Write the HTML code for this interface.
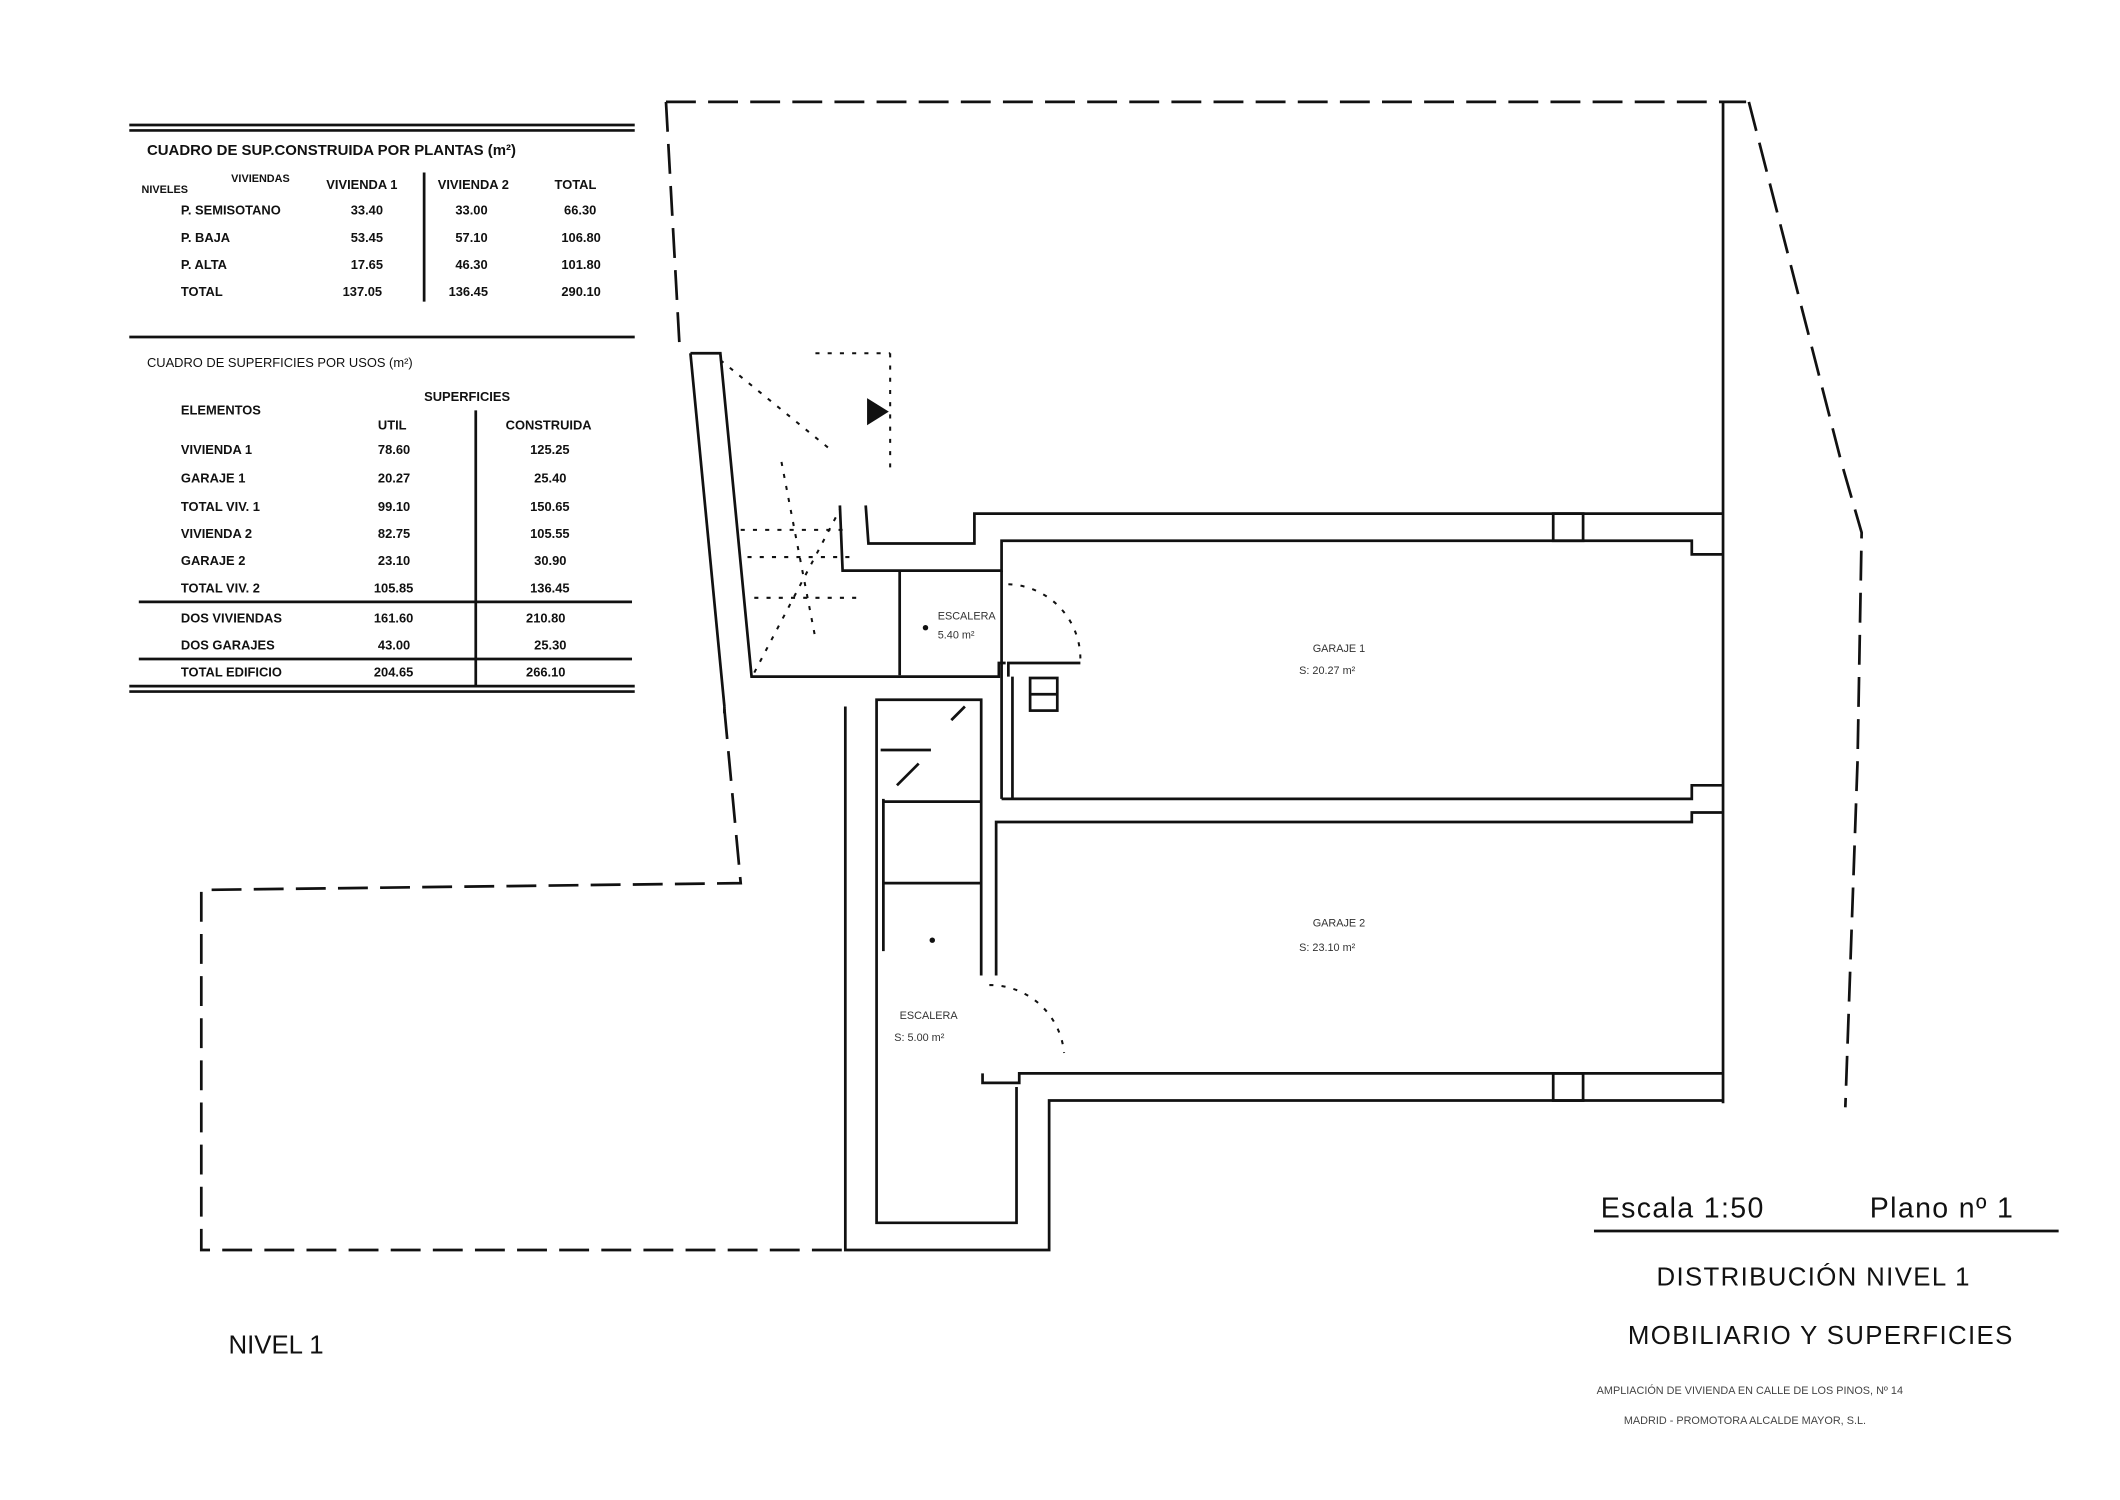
<!DOCTYPE html>
<html><head><meta charset="utf-8"><style>
html,body{margin:0;padding:0;background:#fff;}
svg{display:block;}
text{font-family:"Liberation Sans",sans-serif;fill:#111;}
.t{font-size:9.5px;font-weight:bold;}
</style></head><body>
<svg width="2120" height="1500" viewBox="0 0 1560 1104" xmlns="http://www.w3.org/2000/svg">
<rect width="1560" height="1104" fill="#fff"/>
<g stroke="#111" stroke-width="2" fill="none">
<!-- table lines -->
<line x1="95" y1="92" x2="467" y2="92"/><line x1="95" y1="96" x2="467" y2="96"/>
<line x1="312" y1="127" x2="312" y2="222"/>
<line x1="95" y1="248" x2="467" y2="248"/>
<line x1="350" y1="302" x2="350" y2="505"/>
<line x1="102" y1="443" x2="465" y2="443"/>
<line x1="102" y1="485" x2="465" y2="485"/>
<line x1="95" y1="505" x2="467" y2="505"/><line x1="95" y1="509" x2="467" y2="509"/>
</g>
<g class="t">
<text x="108" y="114" style="font-size:11px">CUADRO DE SUP.CONSTRUIDA POR PLANTAS (m²)</text>
<text x="104" y="142" style="font-size:8px">NIVELES</text><text x="170" y="134" style="font-size:8px">VIVIENDAS</text>
<text x="240" y="139">VIVIENDA 1</text><text x="322" y="139">VIVIENDA 2</text><text x="408" y="139">TOTAL</text>
<text x="133" y="158">P. SEMISOTANO</text><text x="258" y="158">33.40</text><text x="335" y="158">33.00</text><text x="415" y="158">66.30</text>
<text x="133" y="178">P. BAJA</text><text x="258" y="178">53.45</text><text x="335" y="178">57.10</text><text x="413" y="178">106.80</text>
<text x="133" y="198">P. ALTA</text><text x="258" y="198">17.65</text><text x="335" y="198">46.30</text><text x="413" y="198">101.80</text>
<text x="133" y="218">TOTAL</text><text x="252" y="218">137.05</text><text x="330" y="218">136.45</text><text x="413" y="218">290.10</text>
<text x="108" y="270" style="font-weight:normal">CUADRO DE SUPERFICIES POR USOS (m²)</text>
<text x="312" y="295">SUPERFICIES</text>
<text x="133" y="305">ELEMENTOS</text>
<text x="278" y="316">UTIL</text><text x="372" y="316">CONSTRUIDA</text>
<text x="133" y="334">VIVIENDA 1</text><text x="278" y="334">78.60</text><text x="390" y="334">125.25</text>
<text x="133" y="355">GARAJE 1</text><text x="278" y="355">20.27</text><text x="393" y="355">25.40</text>
<text x="133" y="376">TOTAL VIV. 1</text><text x="278" y="376">99.10</text><text x="390" y="376">150.65</text>
<text x="133" y="396">VIVIENDA 2</text><text x="278" y="396">82.75</text><text x="390" y="396">105.55</text>
<text x="133" y="416">GARAJE 2</text><text x="278" y="416">23.10</text><text x="393" y="416">30.90</text>
<text x="133" y="436">TOTAL VIV. 2</text><text x="275" y="436">105.85</text><text x="390" y="436">136.45</text>
<text x="133" y="458">DOS VIVIENDAS</text><text x="275" y="458">161.60</text><text x="387" y="458">210.80</text>
<text x="133" y="478">DOS GARAJES</text><text x="278" y="478">43.00</text><text x="393" y="478">25.30</text>
<text x="133" y="498">TOTAL EDIFICIO</text><text x="275" y="498">204.65</text><text x="387" y="498">266.10</text>
</g>

<!-- dashed outlines -->
<g stroke="#111" stroke-width="2" fill="none" stroke-dasharray="22 9">
<polyline points="490,75 1285,75"/>
<polyline points="490,75 500,255"/>
<polyline points="533,522 545,650 148,655 148,920 622,920"/>
<polyline points="1287,75 1355,340 1370,392 1367,560 1358,815"/>
</g>
<line x1="1268" y1="75" x2="1268" y2="812" stroke="#111" stroke-width="2"/>

<!-- solid walls -->
<g stroke="#111" stroke-width="2" fill="none">
<polyline points="508,260 530,260 553,498 735,498 735,488 740,488"/>
<polyline points="508,260 533,520"/>
<polyline points="533,520 533,525"/>
<polyline points="618,372 620,420 737,420 737,398 1245,398 1245,408 1268,408"/>
<polyline points="637,372 639,400 717,400 717,378 1268,378"/>
<line x1="662" y1="420" x2="662" y2="497"/>
<line x1="737" y1="420" x2="737" y2="588"/>
<polyline points="742,498 742,488 795,488"/>
<polyline points="737,588 1245,588 1245,578 1268,578"/>
<polyline points="745,498 745,588"/>
<polyline points="733,718 733,605 1245,605 1245,598 1268,598"/>
<polyline points="722,718 722,515 645,515 645,900 748,900 748,800"/>
<line x1="648" y1="552" x2="685" y2="552"/>
<line x1="660" y1="578" x2="676" y2="562"/>
<line x1="650" y1="590" x2="722" y2="590"/>
<line x1="650" y1="650" x2="722" y2="650"/>
<line x1="650" y1="588" x2="650" y2="700"/>
<polyline points="622,520 622,920 772,920 772,810 1268,810"/>
<polyline points="723,790 723,797 750,797 750,790 1268,790"/>
<rect x="1143" y="378" width="22" height="20"/>
<rect x="1143" y="790" width="22" height="20"/>
<rect x="758" y="499" width="20" height="24"/><line x1="758" y1="511" x2="778" y2="511"/>
<line x1="700" y1="530" x2="710" y2="520"/>
</g>
<!-- door arcs and stair dashes -->
<g stroke="#111" stroke-width="1.5" fill="none" stroke-dasharray="3 6">
<path d="M742,430 A55,55 0 0 1 795,485"/>
<path d="M728,725 A55,55 0 0 1 783,775"/>
<line x1="530" y1="265" x2="610" y2="330"/>
<line x1="555" y1="495" x2="618" y2="375"/>
<line x1="545" y1="390" x2="625" y2="390"/>
<line x1="550" y1="410" x2="625" y2="410"/>
<line x1="555" y1="440" x2="630" y2="440"/>
<line x1="575" y1="340" x2="600" y2="470"/>
<line x1="600" y1="260" x2="655" y2="260"/>
<line x1="655" y1="260" x2="655" y2="345"/>
</g>
<polygon points="638,293 638,313 654,303" fill="#111"/>
<circle cx="681" cy="462" r="2" fill="#111"/><circle cx="686" cy="692" r="2" fill="#111"/>

<g style="font-size:8px;fill:#333">
<text x="690" y="456" style="fill:#333">ESCALERA</text><text x="690" y="470" style="fill:#333">5.40 m²</text>
<text x="966" y="480" style="fill:#333">GARAJE 1</text><text x="956" y="496" style="fill:#333">S: 20.27 m²</text>
<text x="966" y="682" style="fill:#333">GARAJE 2</text><text x="956" y="700" style="fill:#333">S: 23.10 m²</text>
<text x="662" y="750" style="fill:#333">ESCALERA</text><text x="658" y="766" style="fill:#333">S: 5.00 m²</text>
</g>

<text x="168" y="996" style="font-size:19px">NIVEL  1</text>
<text x="1178" y="896" style="font-size:21px;letter-spacing:1px">Escala  1:50</text>
<text x="1376" y="896" style="font-size:21px;letter-spacing:1px">Plano  nº  1</text>
<line x1="1173" y1="906" x2="1515" y2="906" stroke="#111" stroke-width="2"/>
<text x="1219" y="946" style="font-size:19px;letter-spacing:1px">DISTRIBUCIÓN  NIVEL  1</text>
<text x="1198" y="989" style="font-size:19px;letter-spacing:1px">MOBILIARIO  Y  SUPERFICIES</text>
<text x="1175" y="1026" style="font-size:8px;fill:#444">AMPLIACIÓN DE VIVIENDA EN CALLE DE LOS PINOS, Nº 14</text>
<text x="1195" y="1048" style="font-size:8px;fill:#444">MADRID - PROMOTORA ALCALDE MAYOR, S.L.</text>
</svg>
</body></html>
